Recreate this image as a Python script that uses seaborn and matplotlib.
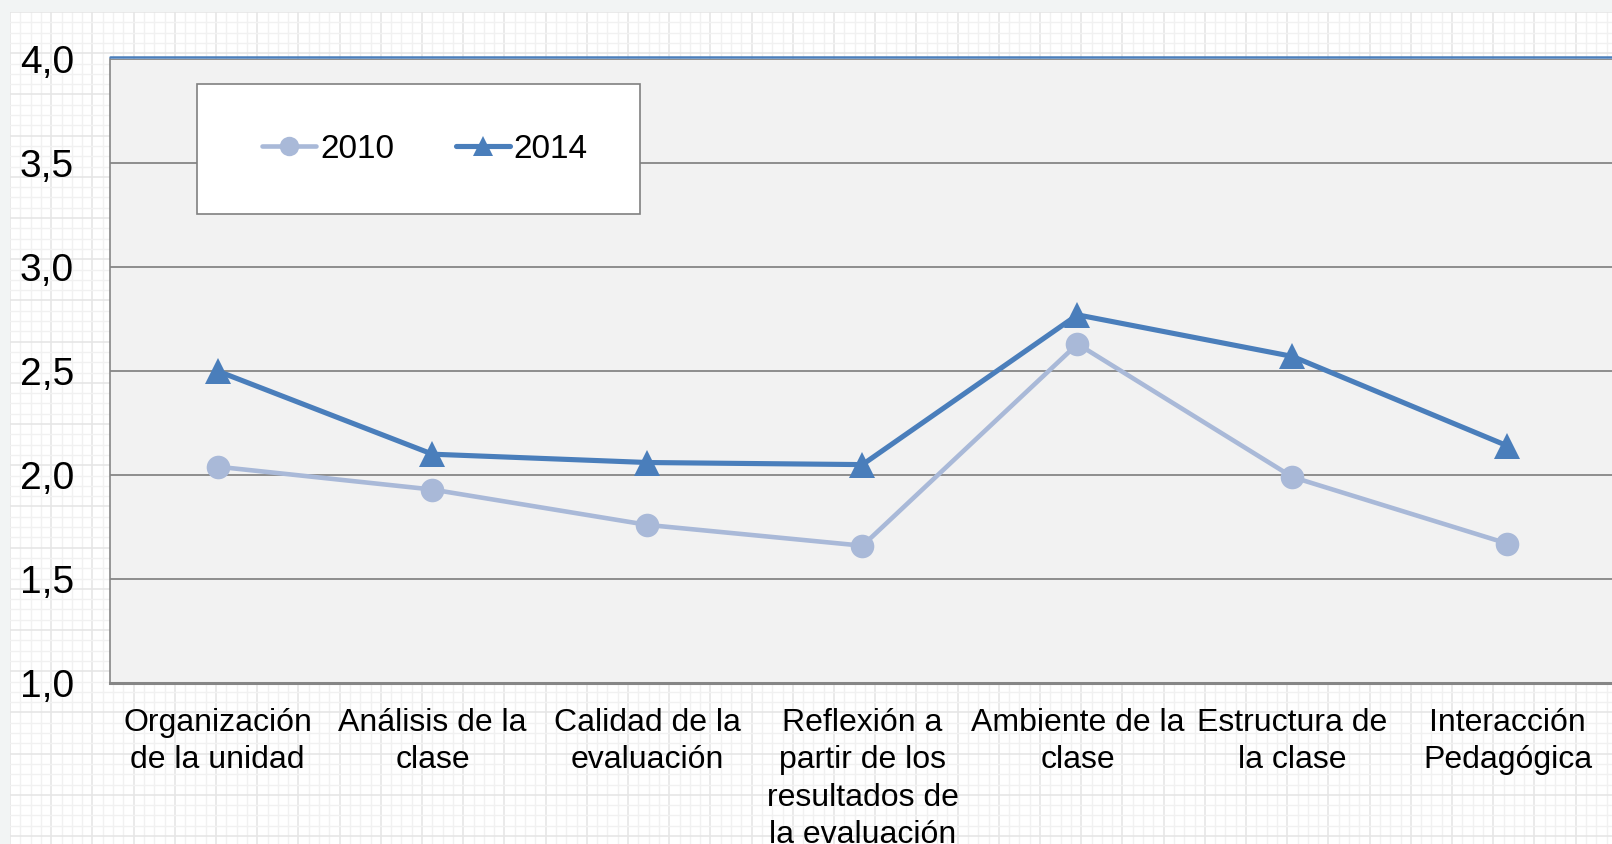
import numpy as np
import pandas as pd
import matplotlib
matplotlib.use("Agg")
import matplotlib.pyplot as plt
from matplotlib.patches import Rectangle
from matplotlib.ticker import FixedLocator
from matplotlib.transforms import ScaledTranslation
import seaborn as sns

# data
categories = [
    "Organización\nde la unidad",
    "Análisis de la\nclase",
    "Calidad de la\nevaluación",
    "Reflexión a\npartir de los\nresultados de\nla evaluación",
    "Ambiente de la\nclase",
    "Estructura de\nla clase",
    "Interacción\nPedagógica",
]
values_2010 = [2.04, 1.93, 1.76, 1.66, 2.63, 1.99, 1.67]
values_2014 = [2.50, 2.10, 2.06, 2.05, 2.77, 2.57, 2.14]
years = ["2010", "2014"]
y_ticks = [1.0, 1.5, 2.0, 2.5, 3.0, 3.5, 4.0]
y_tick_labels = ["1,0", "1,5", "2,0", "2,5", "3,0", "3,5", "4,0"]

df = pd.DataFrame({
    "categoria": list(range(len(categories))) * 2,
    "valor": values_2010 + values_2014,
    "año": [years[0]] * len(categories) + [years[1]] * len(categories),
})

sns.set_style("white")
plt.rcParams["font.family"] = ["Liberation Sans", "DejaVu Sans"]
plt.rcParams["text.color"] = "black"
plt.rcParams["xtick.labelcolor"] = "black"
plt.rcParams["ytick.labelcolor"] = "black"

col_2010 = "#a9b9d8"
col_2014 = "#4a7ebb"
grid_col = "#868686"

fig = plt.figure(figsize=(16.12, 8.44), dpi=100)
fig.patch.set_facecolor("#f2f4f4")

# faint sheet grid behind the chart
bg = fig.add_axes([10 / 1612, 0, 1 - 10 / 1612, 1 - 12 / 844], zorder=-5)
bg.set_facecolor("white")
bg.set_xlim(0, 1602)
bg.set_ylim(832, 0)
bg.set_xticks(np.arange(0, 1602, 10.3), minor=True)
bg.set_yticks(np.arange(0, 832, 10.3), minor=True)
bg.set_xticks(np.arange(0, 1602, 41.2))
bg.set_yticks(np.arange(0, 832, 41.2))
bg.grid(which="minor", color="#f1f1f1", lw=1.0)
bg.grid(which="major", color="#e6e6e6", lw=1.2)
bg.tick_params(which="both", length=0, labelbottom=False, labelleft=False)
for s in bg.spines.values():
    s.set_visible(False)

ax = fig.add_axes([110 / 1612, 1 - 683 / 844, 1505 / 1612, 624 / 844])
ax.set_facecolor("#f2f2f2")

sns.lineplot(
    data=df, x="categoria", y="valor", hue="año", style="año",
    palette={"2010": col_2010, "2014": col_2014},
    markers={"2010": "o", "2014": "^"}, dashes=False,
    markeredgewidth=0, ax=ax, legend=False,
)
for line in ax.lines:
    if line.get_marker() == "o":
        line.set_linewidth(3.3)
        line.set_markersize(17)
    else:
        line.set_linewidth(3.7)
        line.set_markersize(19)
        line.set_zorder(3)

ax.set_xlim(-0.5, len(categories) - 0.5)
ax.set_ylim(1.0, 4.0)
ax.set_yticks(y_ticks)
ax.set_yticklabels(y_tick_labels, fontsize=28)
ax.set_xticks(range(len(categories)))
ax.set_xticklabels(categories, fontsize=23, linespacing=1.32)
ax.xaxis.set_minor_locator(FixedLocator(np.arange(0.5, len(categories) - 0.5, 1)))
ax.tick_params(axis="x", which="major", length=0, pad=18)
ax.tick_params(axis="x", which="minor", length=11, width=1.2, color=grid_col)
ax.tick_params(axis="y", length=10, width=1.2, color=grid_col, pad=16)
ax.set_xlabel("")
ax.set_ylabel("")
ax.grid(axis="y", color=grid_col, lw=1.3)
ax.set_axisbelow(True)

ax.spines["right"].set_visible(False)
ax.spines["left"].set_color(grid_col)
ax.spines["left"].set_linewidth(1.2)
ax.spines["bottom"].set_color(grid_col)
ax.spines["bottom"].set_linewidth(2.2)
ax.spines["top"].set_visible(False)
top = ax.axhline(4.0, color=col_2014, lw=1.8, zorder=4, clip_on=False)
top.set_transform(top.get_transform() + ScaledTranslation(0, 2 / 100, fig.dpi_scale_trans))

# legend box
ax.add_patch(Rectangle((197 / 1612, 1 - 214 / 844), 443 / 1612, 130 / 844,
                       transform=fig.transFigure, facecolor="white",
                       edgecolor="#808080", lw=1.2, zorder=5, clip_on=False))
handles = [
    plt.Line2D([], [], color=col_2010, lw=3.3, marker="o", markersize=14, markeredgewidth=0),
    plt.Line2D([], [], color=col_2014, lw=3.7, marker="^", markersize=15, markeredgewidth=0),
]
leg = ax.legend(
    handles, years, loc="center left", bbox_to_anchor=(262 / 1612, 1 - 149 / 844),
    bbox_transform=fig.transFigure, ncol=2, fontsize=24, frameon=False,
    borderpad=0, handlelength=1.62, handletextpad=0.12, columnspacing=1.85,
    borderaxespad=0,
)
leg.set_zorder(6)

fig.savefig("out.png", dpi=100, facecolor=fig.get_facecolor())
